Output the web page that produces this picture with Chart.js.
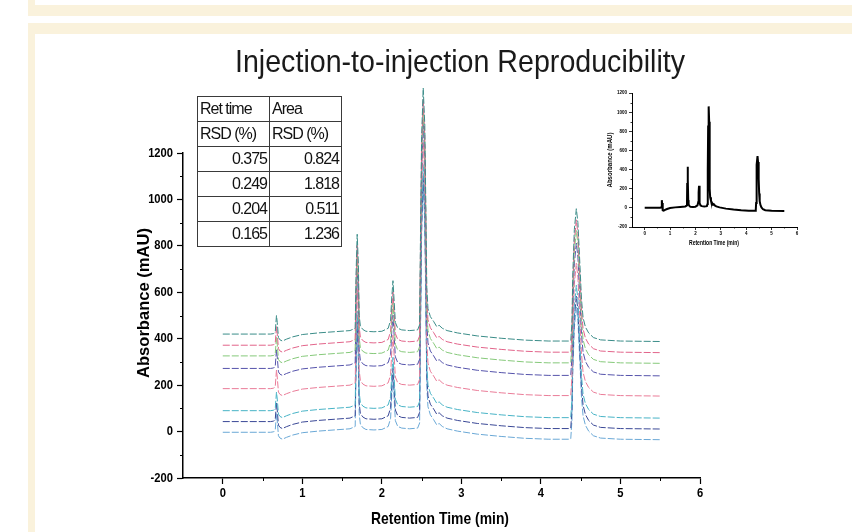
<!DOCTYPE html>
<html lang="en">
<head>
<meta charset="UTF-8">
<title>Injection-to-injection Reproducibility</title>
<style>
  html, body { margin: 0; padding: 0; background: #fff; }
  #page { position: relative; width: 852px; height: 532px; overflow: hidden; background: #fff; }
  .cream { position: absolute; background: #faf2dc; }
  #main { position: absolute; left: 0; top: 0; }
  #inset { position: absolute; left: 590px; top: 80px; }
  #rsd {
    position: absolute; left: 197px; top: 96px; width: 145px;
    border-collapse: collapse;
    font-family: 'Liberation Sans', Arial, sans-serif;
    font-size: 16px; letter-spacing: -1px; color: #111;
  }
  #rsd td { border: 1px solid #3a3a3a; padding: 0 2px; height: 24px; line-height: 16px; }
  #rsd td.num { text-align: right; }
</style>
</head>
<body>
<div id="page">
  <div class="cream" style="left:28px; top:0; width:7px; height:16px;"></div>
  <div class="cream" style="left:28px; top:5px; width:824px; height:11px;"></div>
  <div class="cream" style="left:28px; top:23px; width:824px; height:11px;"></div>
  <div class="cream" style="left:28px; top:23px; width:7px; height:509px;"></div>
  <canvas id="main" width="852" height="532"></canvas>
  <canvas id="inset" width="220" height="175"></canvas>
  <table id="rsd"></table>
</div>

<script src="https://cdn.jsdelivr.net/npm/chart.js@4.4.1/dist/chart.umd.min.js"></script>
<script>
    // one chromatogram (the inset): time in min, absorbance in mAU
    const retentionTime = [0, 0.60, 0.64, 0.66, 0.675, 0.685, 0.70, 0.72, 0.75, 0.80, 0.88, 1.0, 1.2, 1.4, 1.6,
        1.665, 1.675, 1.69, 1.705, 1.715, 1.73, 1.76, 1.80, 1.90, 2.00, 2.08, 2.11, 2.125, 2.14, 2.155, 2.17, 2.20,
        2.25, 2.35, 2.45, 2.475, 2.485, 2.50, 2.52, 2.54, 2.555, 2.565, 2.58, 2.61, 2.65, 2.69, 2.72, 2.76, 2.82,
        2.95, 3.2, 3.5, 3.8, 4.1, 4.36, 4.375, 4.39, 4.40, 4.42, 4.445, 4.465, 4.49, 4.51, 4.53, 4.56, 4.60, 4.66,
        4.75, 5.0, 5.5];
    const absorbance = [0, 0, 2, 10, 80, 50, -15, -25, -30, -22, -12, -2, 5, 10, 15,
        25, 250, 430, 300, 80, 35, 20, 12, 10, 12, 25, 60, 160, 230, 140, 50, 25,
        18, 15, 18, 40, 400, 850, 1060, 900, 500, 200, 110, 75, 55, 32, 38, 25, 15,
        5, -8, -18, -26, -30, -30, -28, 50, 250, 450, 540, 480, 300, 150, 70, 30, 5, -15,
        -25, -30, -32];

    // baseline of each of the 8 overlaid injections (top to bottom), mAU
    const injectionOffsets = [420, 372, 326, 272, 185, 90, 43, -3];
    const traceColors = ['#3a8c88', '#e2648a', '#86c97a', '#5553ab', '#ea7c98', '#47b3c6', '#3a4896', '#6aa8d6'];

    // RSD table
    const tableHeader = [['Ret time', 'Area'], ['RSD (%)', 'RSD (%)']];
    const retTimeRSD = ['0.375', '0.249', '0.204', '0.165'];
    const areaRSD = ['0.824', '1.818', '0.511', '1.236'];

    // axes
    const xTickValues = [0, 1, 2, 3, 4, 5, 6];
    const xMinorValues = [0.5, 1.5, 2.5, 3.5, 4.5, 5.5];
    const yTickValues = [-200, 0, 200, 400, 600, 800, 1000, 1200];
    const yMinorValues = [-100, 100, 300, 500, 700, 900, 1100];
    const xTitle = 'Retention Time (min)';
    const yTitle = 'Absorbance (mAU)';

    const sans = "'Liberation Sans', Arial, sans-serif";

    // table
    const tbl = document.getElementById('rsd');
    tableHeader.forEach(r => {
        const tr = tbl.insertRow();
        r.forEach(t => { const td = tr.insertCell(); td.textContent = t; });
    });
    retTimeRSD.forEach((v, i) => {
        const tr = tbl.insertRow();
        [v, areaRSD[i]].forEach(t => { const td = tr.insertCell(); td.textContent = t; td.className = 'num'; });
    });

    // draws text squeezed horizontally (the figure's lettering is condensed)
    function squeezed(ctx, text, x, y, sq, align, rot) {
        ctx.save();
        ctx.translate(x, y);
        if (rot) ctx.rotate(rot);
        ctx.scale(sq, 1);
        ctx.textAlign = align;
        ctx.fillText(text, 0, 0);
        ctx.restore();
    }

    // small outward ticks between the labelled ones, Origin style
    const minorTicks = {
        id: 'minorTicks',
        afterDraw(chart, args, opts) {
            const ctx = chart.ctx, xs = chart.scales.x, ys = chart.scales.y, a = chart.chartArea;
            ctx.save();
            ctx.strokeStyle = '#000';
            ctx.lineWidth = opts.width || 1;
            ctx.beginPath();
            xMinorValues.forEach(v => {
                const px = Math.round(xs.getPixelForValue(v)) + 0.5;
                ctx.moveTo(px, a.bottom); ctx.lineTo(px, a.bottom + opts.len);
            });
            yMinorValues.forEach(v => {
                const py = Math.round(ys.getPixelForValue(v)) + 0.5;
                ctx.moveTo(a.left, py); ctx.lineTo(a.left - opts.len, py);
            });
            ctx.stroke();
            ctx.restore();
        }
    };

    // tick labels and axis titles, placed through the scales
    const axisText = {
        id: 'axisText',
        afterDraw(chart, args, o) {
            const ctx = chart.ctx, xs = chart.scales.x, ys = chart.scales.y, a = chart.chartArea;
            ctx.save();
            ctx.fillStyle = '#000';
            ctx.textBaseline = 'middle';
            ctx.font = 'bold ' + o.tickSize + 'px ' + sans;
            yTickValues.forEach(v => squeezed(ctx, String(v), a.left - o.yGap, ys.getPixelForValue(v), o.tickSq, 'right'));
            xTickValues.forEach(v => squeezed(ctx, String(v), xs.getPixelForValue(v), a.bottom + o.xGap, o.tickSq, 'center'));
            ctx.font = 'bold ' + o.titleSize + 'px ' + sans;
            const xw = ctx.measureText(xTitle).width, yw = ctx.measureText(yTitle).width;
            squeezed(ctx, xTitle, o.xTitleX, o.xTitleY, o.xTitleW / xw, 'center');
            squeezed(ctx, yTitle, o.yTitleX, o.yTitleY, o.yTitleW / yw, 'center', -Math.PI / 2);
            ctx.restore();
        }
    };

    // thin condensed chart title squeezed to the width it has in the picture
    const bigTitle = {
        id: 'bigTitle',
        afterDraw(chart, args, o) {
            if (!o.text) return;
            const ctx = chart.ctx;
            ctx.save();
            ctx.font = o.size + 'px ' + sans;
            ctx.fillStyle = '#1a1a1a';
            ctx.textBaseline = 'alphabetic';
            squeezed(ctx, o.text, o.cx, o.y, o.width / ctx.measureText(o.text).width, 'center');
            ctx.restore();
        }
    };

    function axes(o) {
        const common = {
            type: 'linear',
            grid: { drawOnChartArea: false, color: '#000', tickLength: o.tick, tickWidth: o.tw },
            border: { color: '#000', width: o.bw },
            ticks: { display: false },
            title: { display: false }
        };
        return {
            x: Object.assign({}, common, {
                min: -0.5, max: 6,
                afterBuildTicks: s => { s.ticks = xTickValues.map(v => ({ value: v })); },
                afterFit: s => { s.height = o.xh; }
            }),
            y: Object.assign({}, common, {
                min: -200, max: 1200,
                afterBuildTicks: s => { s.ticks = yTickValues.map(v => ({ value: v })); },
                afterFit: s => { s.width = o.yw; }
            })
        };
    }

    const mainSets = injectionOffsets.map((off, k) => ({
        label: 'Injection ' + (k + 1),
        data: retentionTime.map((t, i) => ({ x: t, y: absorbance[i] + off })),
        borderColor: traceColors[k],
        borderWidth: 1,
        borderDash: [7, 2],
        pointRadius: 0,
        tension: 0,
        clip: false
    }));

    new Chart(document.getElementById('main'), {
        type: 'line',
        data: { datasets: mainSets },
        options: {
            responsive: false, animation: false, devicePixelRatio: 1,
            layout: { padding: { top: 153, left: 133, right: 152, bottom: 0 } },
            plugins: {
                legend: { display: false }, tooltip: { enabled: false },
                minorTicks: { len: 3, width: 1 },
                axisText: { tickSize: 13, tickSq: 0.86, yGap: 10, xGap: 15,
                    titleSize: 17, xTitleX: 440, xTitleY: 519, xTitleW: 138,
                    yTitleX: 144, yTitleY: 303, yTitleW: 150 },
                bigTitle: { text: 'Injection-to-injection Reproducibility', size: 32, width: 450, cx: 460, y: 72 }
            },
            scales: axes({ xh: 54, yw: 50, tick: 6, tw: 1.2, bw: 1.5 })
        },
        plugins: [minorTicks, axisText, bigTitle]
    });

    new Chart(document.getElementById('inset'), {
        type: 'line',
        data: {
            datasets: [{
                label: 'Single injection',
                data: retentionTime.map((t, i) => ({ x: t, y: absorbance[i] })),
                borderColor: '#000',
                borderWidth: 2,
                pointRadius: 0,
                tension: 0
            }]
        },
        options: {
            responsive: false, animation: false, devicePixelRatio: 1,
            layout: { padding: { top: 13, left: 16, right: 13, bottom: 0 } },
            plugins: {
                legend: { display: false }, tooltip: { enabled: false },
                minorTicks: { len: 1.5, width: 0.8 },
                axisText: { tickSize: 5, tickSq: 0.9, yGap: 5, xGap: 7,
                    titleSize: 6.5, xTitleX: 124, xTitleY: 163, xTitleW: 50,
                    yTitleX: 20, yTitleY: 80, yTitleW: 55 }
            },
            scales: axes({ xh: 28, yw: 26, tick: 3, tw: 0.8, bw: 1 })
        },
        plugins: [minorTicks, axisText]
    });
</script>
</body>
</html>
